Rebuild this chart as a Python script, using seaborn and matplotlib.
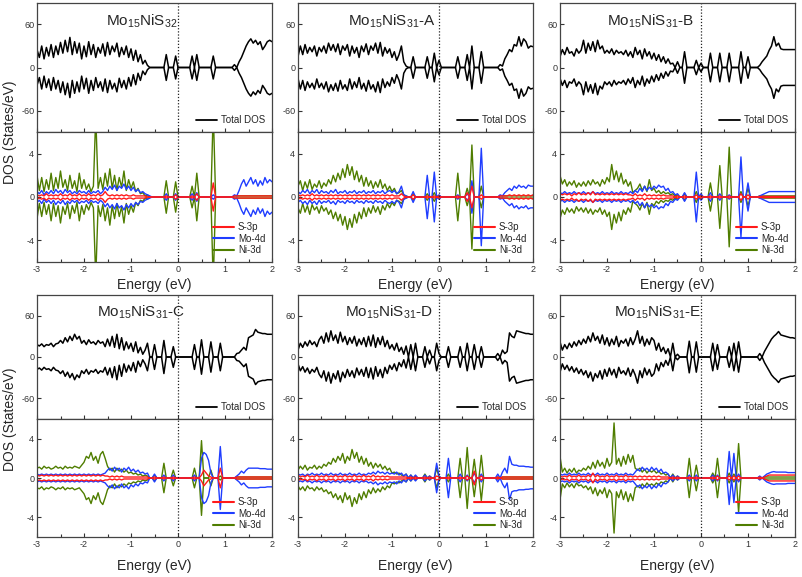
import matplotlib
matplotlib.use('Agg')

import numpy as np
import matplotlib.pyplot as plt
import seaborn as sns
from matplotlib.lines import Line2D
from matplotlib.ticker import MultipleLocator

# energy grid (eV), one value every 0.05 eV
energy = np.round(np.linspace(-3, 2, 101), 2)

# ---- Mo15NiS32 (spin-up; spin-down is the mirror) ----
tot_s32 = [25, 14, 30, 12, 28, 16, 32, 14, 30, 18,
           35, 20, 38, 22, 42, 18, 36, 20, 34, 12,
           30, 15, 36, 18, 32, 14, 28, 20, 33, 16,
           35, 18, 30, 22, 34, 15, 28, 18, 30, 14,
           26, 10, 24, 8, 18, 5, 10, 3, 0, 0,
           0, 0, 0, 0, 0, 18, 0, 0, 0, 16,
           0, 0, 0, 0, 0, 0, 16, 0, 18, 0,
           0, 0, 0, 0, 0, 16, 0, 0, 0, 0,
           0, 0, 0, 0, 4, 0, 8, 14, 22, 30,
           36, 40, 34, 38, 32, 36, 25, 30, 36, 38,
           36]
s_s32 = [0.2, 0.1, 0.2, 0.1, 0.3, 0.1, 0.2, 0.1, 0.2, 0.1,
         0.3, 0.1, 0.2, 0.1, 0.3, 0.1, 0.2, 0.1, 0.3, 0.1,
         0.2, 0.1, 0.3, 0.1, 0.2, 0.1, 0.3, 0.1, 0.2, 0.5,
         0.2, 0.1, 0.2, 0.1, 0.2, 0.1, 0.2, 0.1, 0.2, 0.1,
         0.1, 0.2, 0.1, 0.1, 0.1, 0.1, 0.1, 0.0, 0.0, 0.0,
         0, 0, 0, 0, 0, 0.1, 0, 0, 0, 0.2,
         0, 0, 0, 0, 0, 0, 0.1, 0, 0.3, 0,
         0, 0, 0, 0, 0, 1.3, 0, 0, 0, 0,
         0, 0, 0, 0, 0.1, 0.1, 0.1, 0.1, 0.1, 0.1,
         0.1, 0.1, 0.1, 0.1, 0.1, 0.1, 0.1, 0.1, 0.1, 0.1,
         0.1]
mo_s32 = [0.5, 0.3, 0.6, 0.2, 0.5, 0.3, 0.6, 0.3, 0.7, 0.4,
          0.6, 0.3, 0.7, 0.4, 0.6, 0.3, 0.5, 0.3, 0.6, 0.4,
          0.5, 0.3, 0.6, 0.3, 0.5, 0.4, 0.6, 0.3, 0.5, 0.9,
          0.6, 1.0, 0.7, 1.1, 0.6, 1.0, 0.8, 1.2, 0.7, 1.0,
          0.6, 0.9, 0.5, 0.7, 0.4, 0.5, 0.3, 0.2, 0.1, 0,
          0, 0, 0, 0, 0, 0.3, 0, 0, 0, 0.3,
          0, 0, 0, 0, 0, 0, 0.3, 0, 0.4, 0,
          0, 0, 0, 0, 0, 0.2, 0, 0, 0, 0,
          0, 0, 0, 0, 0.2, 0.1, 0.6, 1.2, 1.6, 1.0,
          1.4, 1.8, 1.2, 1.6, 1.0, 1.5, 1.1, 1.8, 1.3, 1.6,
          1.4]
ni_s32 = [2.0, 0.6, 1.8, 0.5, 1.6, 0.7, 2.2, 0.6, 1.8, 0.8,
          2.4, 0.9, 1.6, 0.6, 2.0, 0.8, 1.5, 0.5, 2.2, 0.8,
          1.6, 0.7, 1.2, 0.5, 1.0, 7.5, 0.8, 1.8, 0.7, 2.2,
          1.0, 2.6, 0.8, 2.0, 0.6, 1.8, 0.9, 2.4, 0.6, 1.6,
          0.8, 1.4, 0.5, 0.8, 0.3, 0.4, 0.1, 0.2, 0.0, 0.0,
          0, 0, 0, 0, 0, 1.5, 0, 0, 0, 1.4,
          0, 0, 0, 0, 0, 0, 1.0, 0, 2.2, 0,
          0, 0, 0, 0, 0, 8.0, 0, 0, 0, 0,
          0, 0, 0, 0, 0.1, 0.1, 0.1, 0.1, 0.1, 0.1,
          0.1, 0.1, 0.1, 0.1, 0.1, 0.1, 0.1, 0.1, 0.1, 0.1,
          0.1]

# ---- Mo15NiS31-A ----
tot_a = [15, 30, 18, 32, 20, 28, 22, 30, 16, 28,
         22, 30, 20, 34, 24, 32, 22, 33, 18, 30,
         24, 32, 16, 30, 20, 28, 14, 30, 22, 33,
         18, 30, 24, 34, 20, 35, 16, 28, 20, 26,
         14, 22, 10, 18, 30, 8, 2, 0, 0, 15,
         0, 0, 0, 0, 0, 15, 0, 0, 20, 0,
         10, 0, 0, 0, 0, 0, 0, 0, 15, 0,
         0, 0, 18, 0, 30, 0, 0, 0, 22, 0,
         0, 0, 0, 0, 0, 0, 4, 2, 12, 18,
         25, 22, 32, 30, 43, 30, 40, 36, 27, 30,
         29]
s_a = [0.2, 0.1, 0.2, 0.1, 0.2, 0.1, 0.3, 0.1, 0.2, 0.1,
       0.2, 0.1, 0.2, 0.1, 0.2, 0.1, 0.2, 0.1, 0.2, 0.1,
       0.2, 0.1, 0.2, 0.1, 0.2, 0.1, 0.2, 0.1, 0.2, 0.1,
       0.2, 0.1, 0.2, 0.1, 0.2, 0.1, 0.2, 0.1, 0.2, 0.1,
       0.2, 0.1, 0.1, 0.1, 0.3, 0.1, 0.0, 0, 0, 0.2,
       0, 0, 0, 0, 0, 0.1, 0, 0, 0.1, 0,
       0.1, 0, 0, 0, 0, 0, 0, 0, 0.1, 0,
       0, 0, 0.4, 0, 1.0, 0, 0, 0, 0.2, 0,
       0, 0, 0, 0, 0, 0, 0.1, 0.1, 0.1, 0.1,
       0.2, 0.1, 0.2, 0.1, 0.2, 0.1, 0.2, 0.1, 0.2, 0.1,
       0.2]
mo_a = [0.5, 0.3, 0.6, 0.4, 0.7, 0.3, 0.6, 0.4, 0.7, 0.3,
        0.6, 0.4, 0.5, 0.3, 0.6, 0.4, 0.7, 0.3, 0.5, 0.4,
        0.6, 0.3, 0.5, 0.4, 0.6, 0.3, 0.5, 0.4, 0.6, 0.3,
        0.5, 0.4, 0.6, 0.3, 0.5, 0.4, 0.6, 0.3, 0.5, 0.6,
        0.4, 0.6, 0.3, 0.5, 1.0, 0.2, 0.1, 0, 0, 0.5,
        0, 0, 0, 0, 0, 2.0, 0, 0, 2.3, 0,
        0.2, 0, 0, 0, 0, 0, 0, 0, 0.2, 0,
        0, 0, 0.3, 0, 1.5, 0, 0, 0, 4.5, 0,
        0, 0, 0, 0, 0, 0, 0.2, 0.1, 0.4, 0.6,
        0.8, 0.6, 1.0, 0.8, 1.1, 0.9, 1.0, 0.8, 1.1, 1.0,
        1.0]
ni_a = [1.0, 1.5, 0.6, 1.4, 0.8, 1.6, 0.7, 1.2, 0.9, 1.5,
        0.8, 1.3, 1.0, 1.6, 1.2, 2.0, 1.4, 2.2, 1.6, 2.6,
        1.8, 3.0, 2.0, 2.8, 1.6, 2.4, 1.4, 2.0, 1.0, 1.8,
        1.0, 1.5, 0.8, 1.4, 0.9, 1.6, 0.8, 1.2, 0.6, 1.0,
        0.5, 0.8, 0.3, 0.4, 0.6, 0.2, 0.1, 0, 0, 0.3,
        0, 0, 0, 0, 0, 0.3, 0, 0, 0.4, 0,
        0.1, 0, 0, 0, 0, 0, 0, 0, 2.2, 0,
        0, 0, 0.8, 0, 4.8, 0, 0, 0, 1.0, 0,
        0, 0, 0, 0, 0, 0, 0.1, 0.1, 0.1, 0.1,
        0.1, 0.1, 0.1, 0.1, 0.1, 0.1, 0.1, 0.1, 0.1, 0.1,
        0.1]

# ---- Mo15NiS31-B ----
tot_b = [15, 25, 18, 28, 20, 22, 16, 26, 20, 24,
         38, 20, 34, 24, 36, 22, 38, 26, 30, 20,
         24, 20, 26, 18, 24, 20, 22, 18, 24, 16,
         22, 14, 28, 18, 24, 12, 26, 16, 22, 12,
         20, 10, 18, 8, 15, 6, 12, 5, 6, 0,
         8, 0, 0, 22, 0, 0, 0, 0, 10, 0,
         6, 0, 0, 0, 20, 0, 0, 0, 20, 0,
         0, 0, 20, 0, 0, 0, 0, 22, 0, 0,
         15, 0, 0, 0, 0, 3, 8, 12, 16, 24,
         30, 43, 30, 34, 26, 25, 25, 25, 25, 25,
         25]
s_b = [0.3, 0.2, 0.3, 0.2, 0.3, 0.1, 0.3, 0.2, 0.4, 0.2,
       0.3, 0.2, 0.4, 0.2, 0.5, 0.2, 0.3, 0.2, 0.3, 0.2,
       0.3, 0.2, 0.3, 0.2, 0.3, 0.2, 0.3, 0.2, 0.3, 0.2,
       0.2, 0.1, 0.3, 0.1, 0.2, 0.1, 0.3, 0.1, 0.2, 0.1,
       0.2, 0.1, 0.2, 0.1, 0.2, 0.1, 0.1, 0.1, 0.1, 0.0,
       0.1, 0, 0, 0.1, 0, 0, 0, 0, 0.2, 0,
       0.1, 0, 0, 0, 0.1, 0, 0, 0, 0.1, 0,
       0, 0, 0.1, 0, 0, 0, 0, 0.3, 0, 0,
       0.2, 0, 0, 0, 0, 0.05, 0.05, 0.05, 0.05, 0.05,
       0.05, 0.05, 0.05, 0.05, 0.05, 0.05, 0.05, 0.05, 0.05, 0.05,
       0.05]
mo_b = [0.4, 0.3, 0.5, 0.3, 0.4, 0.3, 0.5, 0.3, 0.4, 0.3,
        0.5, 0.3, 0.4, 0.3, 0.5, 0.3, 0.4, 0.3, 0.5, 0.3,
        0.4, 0.3, 0.5, 0.3, 0.4, 0.3, 0.5, 0.3, 0.4, 0.3,
        0.5, 0.3, 0.6, 0.4, 0.8, 0.5, 1.0, 0.6, 0.9, 0.7,
        1.0, 0.8, 1.1, 0.9, 1.0, 0.6, 0.8, 0.4, 0.5, 0.2,
        0.3, 0, 0, 0.4, 0, 0, 0, 0, 2.3, 0,
        0.3, 0, 0, 0, 0.4, 0, 0, 0, 0.3, 0,
        0, 0, 0.2, 0, 0, 0, 0, 3.7, 0, 0,
        1.3, 0, 0, 0, 0, 0.1, 0.2, 0.3, 0.4, 0.5,
        0.5, 0.5, 0.5, 0.5, 0.5, 0.5, 0.5, 0.5, 0.5, 0.5,
        0.5]
ni_b = [2.0, 1.2, 1.6, 1.0, 1.4, 1.1, 1.5, 0.9, 1.3, 1.0,
        1.4, 1.0, 1.5, 1.1, 1.6, 1.2, 1.4, 1.0, 1.6, 1.2,
        1.8, 1.4, 3.0, 1.6, 2.4, 1.4, 2.2, 1.2, 1.6, 1.0,
        1.4, 0.4, 0.6, 0.8, 1.2, 0.6, 1.0, 0.5, 1.6, 0.6,
        0.8, 0.4, 0.6, 0.3, 0.5, 0.3, 0.4, 0.2, 0.3, 0.1,
        0.2, 0, 0, 0.3, 0, 0, 0, 0, 0.5, 0,
        0.2, 0, 0, 0, 1.3, 0, 0, 0, 2.9, 0,
        0, 0, 4.6, 0, 0, 0, 0, 0.5, 0, 0,
        0.8, 0, 0, 0, 0, 0.1, 0.1, 0.1, 0.1, 0.1,
        0.1, 0.1, 0.1, 0.1, 0.1, 0.1, 0.1, 0.1, 0.1, 0.1,
        0.1]

# ---- Mo15NiS31-C ----
tot_c = [18, 16, 19, 15, 18, 17, 20, 15, 19, 20,
         24, 20, 28, 22, 30, 24, 33, 26, 30, 20,
         24, 18, 25, 20, 22, 18, 24, 20, 22, 15,
         26, 16, 30, 14, 33, 12, 28, 10, 22, 12,
         20, 8, 22, 6, 14, 4, 10, 20, 0, 0,
         18, 0, 0, 0, 24, 0, 0, 0, 15, 0,
         0, 0, 0, 0, 0, 0, 0, 18, 0, 0,
         25, 0, 0, 0, 22, 0, 0, 0, 20, 0,
         0, 0, 0, 0, 0, 5, 6, 10, 14, 10,
         28, 30, 32, 40, 36, 35, 34, 34, 33, 33,
         33]
s_c = [0.3, 0.2, 0.3, 0.2, 0.3, 0.2, 0.3, 0.2, 0.3, 0.2,
       0.3, 0.2, 0.3, 0.2, 0.3, 0.2, 0.3, 0.2, 0.3, 0.2,
       0.3, 0.2, 0.3, 0.2, 0.3, 0.2, 0.3, 0.2, 0.3, 0.2,
       0.2, 0.1, 0.2, 0.1, 0.2, 0.1, 0.2, 0.1, 0.1, 0.1,
       0.1, 0.1, 0.1, 0.1, 0.1, 0.1, 0.1, 0.1, 0, 0,
       0.1, 0, 0, 0, 0.1, 0, 0, 0, 0.1, 0,
       0, 0, 0, 0, 0, 0, 0, 0.1, 0, 0,
       0.3, 0.8, 0.5, 0.2, 0.1, 0, 0, 0, 1.0, 0,
       0, 0, 0, 0, 0, 0.1, 0.1, 0.1, 0.1, 0.1,
       0.1, 0.1, 0.1, 0.1, 0.1, 0.1, 0.1, 0.1, 0.1, 0.1,
       0.1]
mo_c = [0.4, 0.3, 0.4, 0.3, 0.4, 0.3, 0.4, 0.3, 0.4, 0.3,
        0.4, 0.3, 0.4, 0.3, 0.4, 0.3, 0.4, 0.3, 0.4, 0.3,
        0.4, 0.3, 0.4, 0.3, 0.4, 0.3, 0.4, 0.3, 0.4, 0.5,
        0.8, 1.0, 0.7, 1.1, 0.8, 1.0, 0.6, 1.0, 0.8, 1.1,
        0.7, 0.9, 0.6, 0.8, 0.5, 0.6, 0.4, 0.5, 0, 0,
        0.4, 0, 0, 0, 0.3, 0, 0, 0, 0.3, 0,
        0, 0, 0, 0, 0, 0, 0, 0.3, 0, 0,
        2.0, 2.6, 2.4, 1.8, 0.5, 0, 0, 0, 3.2, 0,
        0, 0, 0, 0, 0, 0.2, 0.4, 0.7, 0.5, 0.8,
        1.0, 1.0, 1.0, 1.0, 1.0, 0.95, 0.95, 0.95, 0.9, 0.9,
        0.9]
ni_c = [1.0, 1.1, 0.9, 1.2, 1.0, 1.1, 0.9, 1.0, 1.2, 1.0,
        1.1, 0.9, 1.2, 1.0, 1.1, 1.0, 1.2, 1.1, 1.0, 1.3,
        1.6, 2.2, 2.0, 2.6, 1.8, 2.2, 1.5, 2.4, 2.7, 2.0,
        1.2, 0.8, 1.0, 0.6, 1.0, 0.7, 0.9, 0.6, 0.8, 0.5,
        0.6, 0.4, 0.5, 0.3, 0.4, 0.2, 0.3, 0.2, 0, 0,
        0.3, 0, 0, 0, 1.5, 0, 0, 0, 0.8, 0,
        0, 0, 0, 0, 0, 0, 0, 1.0, 0, 0,
        3.8, 0, 0, 0, 0.8, 0, 0, 0, 0.2, 0,
        0, 0, 0, 0, 0, 0.1, 0.1, 0.1, 0.1, 0.1,
        0.1, 0.1, 0.1, 0.1, 0.1, 0.1, 0.1, 0.1, 0.1, 0.1,
        0.1]

# ---- Mo15NiS31-D ----
tot_d = [10, 20, 14, 22, 16, 24, 18, 22, 15, 25,
         30, 20, 35, 22, 38, 24, 32, 20, 36, 22,
         30, 18, 28, 20, 30, 16, 26, 18, 28, 15,
         30, 16, 32, 14, 28, 18, 30, 15, 24, 12,
         18, 10, 20, 8, 14, 4, 16, 0, 18, 0,
         20, 0, 0, 0, 15, 0, 10, 0, 0, 20,
         5, 0, 0, 0, 15, 0, 0, 0, 0, 15,
         0, 0, 20, 0, 0, 18, 0, 0, 15, 0,
         0, 0, 0, 0, 0, 5, 0, 10, 5, 8,
         35, 30, 28, 38, 37, 36, 35, 34, 34, 33,
         33]
s_d = [0.3, 0.1, 0.2, 0.1, 0.3, 0.1, 0.2, 0.1, 0.3, 0.1,
       0.2, 0.1, 0.3, 0.1, 0.2, 0.1, 0.3, 0.1, 0.2, 0.1,
       0.3, 0.1, 0.2, 0.1, 0.3, 0.1, 0.2, 0.1, 0.3, 0.1,
       0.2, 0.1, 0.3, 0.1, 0.2, 0.1, 0.2, 0.1, 0.2, 0.1,
       0.1, 0.1, 0.1, 0.1, 0.1, 0.1, 0.1, 0, 0.1, 0,
       0.1, 0, 0, 0, 0.1, 0, 0.1, 0, 0, 0.2,
       0.1, 0, 0, 0, 0.1, 0, 0, 0, 0, 0.1,
       0, 0, 0.2, 0, 0, 0.7, 0, 0, 0.2, 0,
       0, 0, 0, 0, 0, 0.1, 0, 0.1, 0.1, 0.1,
       0.1, 0.1, 0.1, 0.1, 0.1, 0.1, 0.1, 0.1, 0.1, 0.1,
       0.1]
mo_d = [0.4, 0.3, 0.4, 0.2, 0.4, 0.3, 0.5, 0.3, 0.4, 0.3,
        0.5, 0.3, 0.4, 0.3, 0.5, 0.3, 0.4, 0.3, 0.5, 0.3,
        0.4, 0.3, 0.5, 0.3, 0.4, 0.3, 0.5, 0.3, 0.4, 0.3,
        0.5, 0.4, 0.6, 0.4, 0.7, 0.5, 0.6, 0.4, 0.6, 0.4,
        0.5, 0.4, 0.6, 0.3, 0.5, 0.2, 0.4, 0, 0.3, 0,
        0.3, 0, 0, 0, 0.3, 0, 0.2, 0, 0, 1.5,
        0.2, 0, 0, 0, 2.0, 0, 0, 0, 0, 0.4,
        0, 0, 0.3, 0, 0, 0.5, 0, 0, 0.4, 0,
        0, 0, 0, 0, 0, 0.4, 0, 0.6, 1.0, 0.5,
        2.2, 1.4, 1.3, 1.3, 1.2, 1.2, 1.2, 1.15, 1.15, 1.1,
        1.1]
ni_d = [0.8, 1.2, 0.9, 1.3, 0.8, 1.1, 1.0, 1.3, 0.9, 1.2,
        1.0, 1.4, 1.2, 1.6, 1.4, 2.0, 1.6, 2.2, 1.8, 2.5,
        1.5, 2.2, 1.8, 2.9, 2.0, 2.6, 1.6, 2.2, 1.4, 2.0,
        1.2, 1.6, 1.0, 1.5, 1.1, 1.4, 0.9, 1.2, 0.8, 1.0,
        0.5, 0.6, 0.4, 0.5, 0.3, 0.2, 0.4, 0, 0.3, 0,
        0.2, 0, 0, 0, 0.4, 0, 0.2, 0, 0, 1.0,
        0.1, 0, 0, 0, 0.4, 0, 0, 0, 0, 2.0,
        0, 0, 3.1, 0, 0, 1.9, 0, 0, 2.3, 0,
        0, 0, 0, 0, 0, 0.1, 0, 0.1, 0.1, 0.1,
        0.1, 0.1, 0.1, 0.1, 0.1, 0.1, 0.1, 0.1, 0.1, 0.1,
        0.1]

# ---- Mo15NiS31-E ----
tot_e = [22, 10, 18, 12, 20, 14, 22, 16, 24, 18,
         26, 20, 30, 22, 35, 24, 30, 20, 32, 18,
         28, 16, 26, 18, 30, 15, 24, 20, 26, 16,
         28, 18, 26, 38, 20, 30, 16, 26, 18, 28,
         24, 10, 20, 8, 14, 5, 12, 0, 20, 0,
         4, 0, 0, 0, 0, 23, 0, 0, 22, 0,
         0, 0, 0, 0, 0, 20, 0, 18, 0, 0,
         0, 0, 15, 0, 20, 0, 22, 0, 0, 0,
         0, 0, 0, 0, 0, 5, 0, 8, 14, 20,
         26, 30, 33, 37, 32, 31, 30, 29, 28, 28,
         27]
s_e = [0.2, 0.1, 0.2, 0.1, 0.3, 0.1, 0.2, 0.1, 0.3, 0.1,
       0.2, 0.1, 0.3, 0.1, 0.5, 0.1, 0.3, 0.1, 0.2, 0.1,
       0.3, 0.1, 0.2, 0.1, 0.3, 0.1, 0.2, 0.1, 0.3, 0.1,
       0.2, 0.1, 0.2, 0.1, 0.2, 0.1, 0.2, 0.1, 0.2, 0.1,
       0.2, 0.1, 0.2, 0.1, 0.1, 0.1, 0.1, 0, 0.1, 0,
       0.1, 0, 0, 0, 0, 0.1, 0, 0, 0.1, 0,
       0, 0, 0, 0, 0, 0.1, 0, 0.2, 0, 0,
       0, 0, 0.2, 0, 0.2, 0, 0.2, 0, 0, 0,
       0, 0, 0, 0, 0, 0.1, 0, 0.1, 0.2, 0.3,
       0.3, 0.3, 0.3, 0.3, 0.3, 0.3, 0.3, 0.3, 0.3, 0.3,
       0.3]
mo_e = [0.4, 0.3, 0.4, 0.3, 0.5, 0.3, 0.4, 0.3, 0.5, 0.3,
        0.4, 0.3, 0.5, 0.3, 0.4, 0.3, 0.5, 0.3, 0.4, 0.3,
        0.5, 0.3, 0.4, 0.3, 0.5, 0.3, 0.4, 0.3, 0.5, 0.3,
        0.4, 0.3, 0.6, 0.9, 0.7, 1.1, 0.8, 1.0, 0.7, 1.1,
        0.8, 1.0, 0.6, 0.9, 0.5, 0.6, 0.4, 0, 0.3, 0,
        0.2, 0, 0, 0, 0, 0.3, 0, 0, 0.3, 0,
        0, 0, 0, 0, 0, 0.3, 0, 0.3, 0, 0,
        0, 0, 2.7, 0, 2.5, 0, 0.4, 0, 0, 0,
        0, 0, 0, 0, 0, 0.2, 0, 0.2, 0.4, 0.5,
        0.6, 0.65, 0.6, 0.6, 0.6, 0.6, 0.6, 0.55, 0.55, 0.55,
        0.55]
ni_e = [2.2, 0.6, 1.0, 0.5, 0.9, 0.6, 1.0, 0.5, 0.8, 0.7,
        1.0, 0.8, 1.2, 0.9, 1.6, 1.0, 1.8, 1.2, 1.6, 1.0,
        2.0, 1.2, 1.6, 5.6, 1.4, 2.0, 1.2, 2.2, 1.4, 2.4,
        1.6, 2.3, 1.0, 0.8, 1.0, 0.6, 0.9, 0.5, 0.8, 0.6,
        0.8, 0.5, 0.7, 0.4, 0.5, 0.3, 0.4, 0, 0.4, 0,
        0.2, 0, 0, 0, 0, 2.0, 0, 0, 1.3, 0,
        0, 0, 0, 0, 0, 0.5, 0, 2.0, 0, 0,
        0, 0, 0.5, 0, 0.4, 0, 3.5, 0, 0, 0,
        0, 0, 0, 0, 0, 0.1, 0, 0.1, 0.1, 0.1,
        0.1, 0.1, 0.1, 0.1, 0.1, 0.1, 0.1, 0.1, 0.1, 0.1,
        0.1]

titles = ["Mo$_{15}$NiS$_{32}$", "Mo$_{15}$NiS$_{31}$-A", "Mo$_{15}$NiS$_{31}$-B",
          "Mo$_{15}$NiS$_{31}$-C", "Mo$_{15}$NiS$_{31}$-D", "Mo$_{15}$NiS$_{31}$-E"]
panels = [(tot_s32, s_s32, mo_s32, ni_s32), (tot_a, s_a, mo_a, ni_a),
          (tot_b, s_b, mo_b, ni_b), (tot_c, s_c, mo_c, ni_c),
          (tot_d, s_d, mo_d, ni_d), (tot_e, s_e, mo_e, ni_e)]
pdos_labels = ["S-3p", "Mo-4d", "Ni-3d"]
pdos_colors = ["#ff1a1a", "#1f3dff", "#4f7d00"]

# layout (pixels of the 803x577 picture)
W, H = 803.0, 577.0
col_left = [37, 298, 560]
col_w = 235
rows = [(3, 132, 262), (295, 419, 537)]
xlabel_y = [285, 566]
title_x = [-0.78, -1.0, -1.08, -0.78, -1.06, -0.93]

sns.set_style("ticks")
plt.rcParams['font.family'] = ['Liberation Sans', 'DejaVu Sans']
plt.rcParams['mathtext.fontset'] = 'custom'
plt.rcParams['mathtext.rm'] = 'Liberation Sans'
plt.rcParams['mathtext.it'] = 'Liberation Sans:italic'
plt.rcParams['axes.unicode_minus'] = False


def box(left, top, bottom):
    return [left / W, 1 - bottom / H, col_w / W, (bottom - top) / H]


def spin_pair(ax, vals, color, lw):
    y = np.asarray(vals, float)
    assert len(y) == len(energy)
    for sign in (1, -1):
        sns.lineplot(x=energy, y=sign * y, ax=ax, color=color, lw=lw,
                     estimator=None, sort=False, legend=False)


def style(ax, yt, ylim, show_x):
    ax.set_xlim(-3, 2)
    ax.set_ylim(*ylim)
    ax.set_yticks(yt)
    ax.set_xticks([-3, -2, -1, 0, 1, 2])
    ax.xaxis.set_minor_locator(MultipleLocator(0.5))
    ax.tick_params(which='both', direction='in', width=0.8, labelsize=6.5,
                   colors='#333333', pad=2, top=False, right=False)
    ax.tick_params(which='major', length=3)
    ax.tick_params(which='minor', length=2.5)
    if not show_x:
        ax.set_xticklabels([])
    ax.set_xlabel('')
    ax.set_ylabel('')
    for sp in ax.spines.values():
        sp.set_color('#444444')
        sp.set_linewidth(0.9)
    ax.axvline(0, color='#222222', ls=(0, (1, 1.5)), lw=0.9)


fig = plt.figure(figsize=(8.03, 5.77), dpi=100)

for k, (tot, s3p, mo4d, ni3d) in enumerate(panels):
    r, c = divmod(k, 3)
    t0, t1, t2 = rows[r]
    ax1 = fig.add_axes(box(col_left[c], t0, t1))
    ax2 = fig.add_axes(box(col_left[c], t1, t2))

    spin_pair(ax1, tot, 'black', 1.1)
    style(ax1, [-60, 0, 60], (-90, 90), False)
    ax1.text(title_x[k], 58, titles[k], ha='center', va='baseline', fontsize=11)
    ax1.legend(handles=[Line2D([], [], color='black', lw=1.3)], labels=['Total DOS'],
               loc='lower right', frameon=False, fontsize=7, handlelength=2.2,
               handletextpad=0.4, borderaxespad=0.3)

    for vals, col in zip([ni3d, mo4d, s3p], pdos_colors[::-1]):
        spin_pair(ax2, vals, col, 1.0)
    style(ax2, [-4, 0, 4], (-6, 6), True)
    handles = [Line2D([], [], color=col, lw=1.5) for col in pdos_colors]
    ax2.legend(handles=handles, labels=pdos_labels, loc='lower right', frameon=False,
               fontsize=7, handlelength=2.2, handletextpad=0.4, labelspacing=0.15,
               borderaxespad=0.3)

    fig.text((col_left[c] + col_w / 2) / W, 1 - xlabel_y[r] / H, "Energy (eV)",
             ha='center', va='center', fontsize=10)

for yc in (132, 419):
    fig.text(10 / W, 1 - yc / H, "DOS (States/eV)", rotation=90, ha='center',
             va='center', fontsize=10)

fig.savefig("out.png", dpi=100)
